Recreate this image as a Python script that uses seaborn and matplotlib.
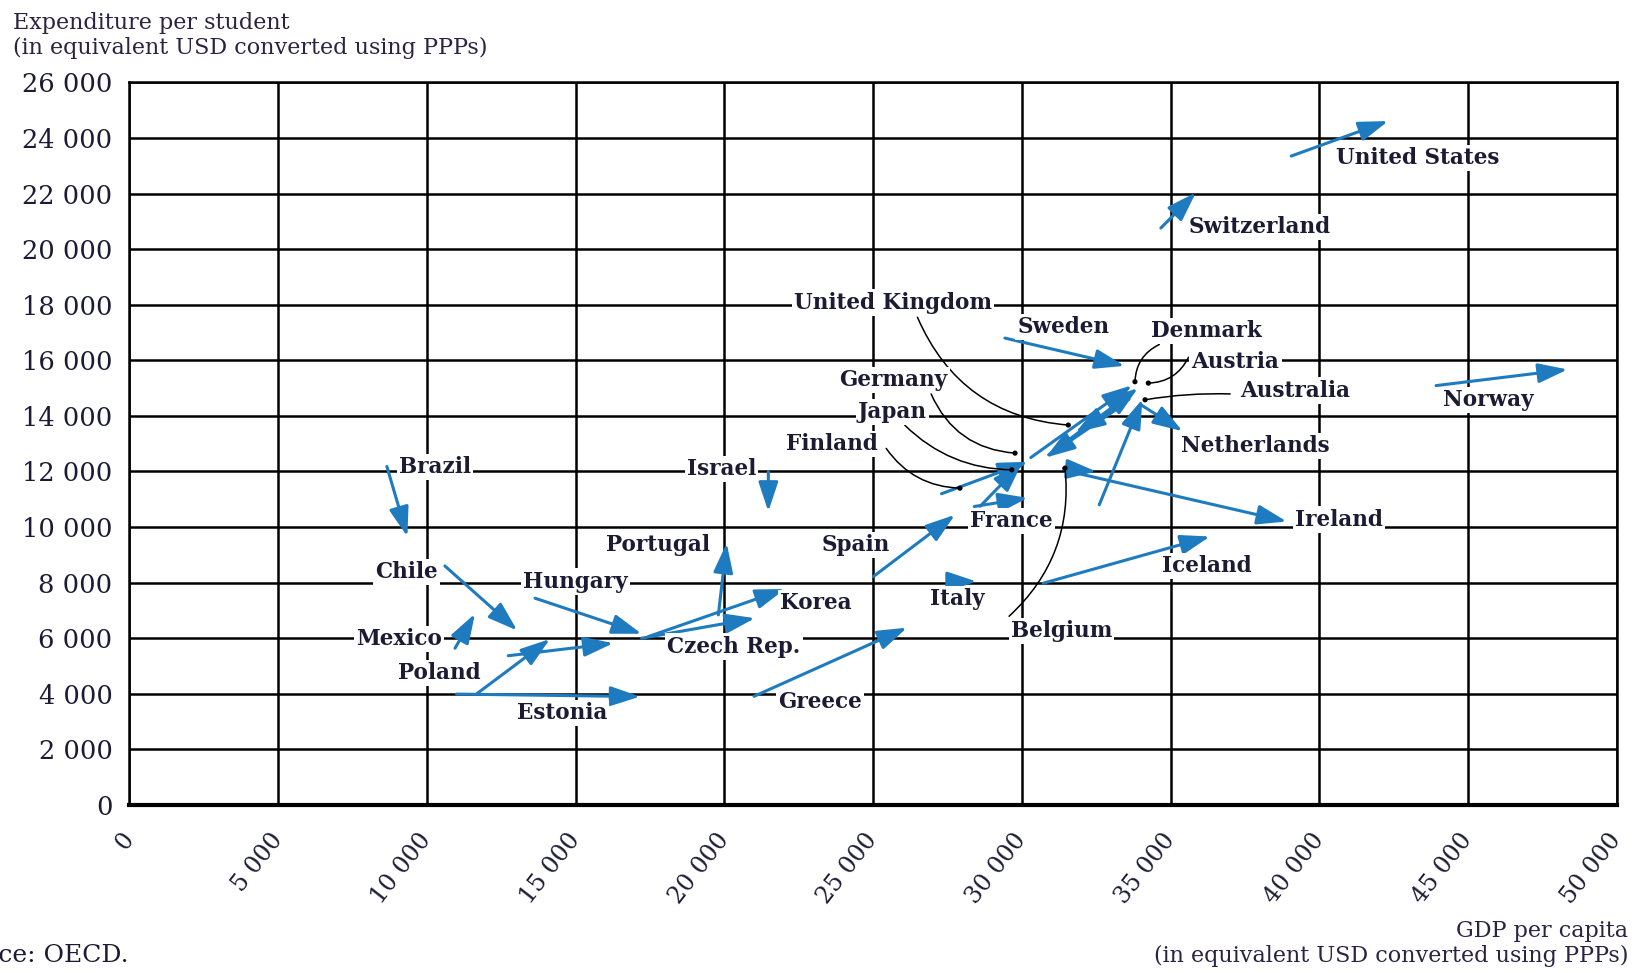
import numpy as np
import pandas as pd
import matplotlib
matplotlib.use("Agg")
import matplotlib.pyplot as plt
import seaborn as sns

# Arrow data, values in USD (GDP per capita -> x, expenditure per student -> y)
countries = ["Brazil", "Chile", "Mexico", "Poland", "Estonia", "", "Hungary", "Czech Rep.",
             "Korea", "Portugal", "Israel", "Greece", "Spain", "Italy", "France", "Japan",
             "Finland", "Germany", "United Kingdom", "Denmark", "Austria", "Australia",
             "Netherlands", "Sweden", "Belgium", "Ireland", "Iceland", "Switzerland",
             "United States", "Norway"]
gdp_start = [8660, 10610, 10950, 11680, 11000, 12740, 13640, 17220,
             17450, 19800, 21480, 21000, 25010, 27690, 28400, 28600,
             27300, 33400, 33600, 30300, 30900, 32600,
             34000, 29430, 31400, 31600, 30720, 34670,
             39050, 43920]
gdp_end = [9350, 13040, 11620, 14140, 17170, 16270, 17220, 21030,
           22040, 20080, 21480, 26140, 27750, 28480, 30200, 30000,
           30200, 30800, 31800, 33700, 33900, 34050,
           35400, 33450, 32500, 38900, 36320, 35850,
           42310, 48340]
exp_start = [12180, 8600, 5640, 4000, 3990, 5370, 7440, 6000,
             6060, 6840, 12000, 3910, 8220, 8040, 10740, 10750,
             11200, 14400, 14600, 12500, 12600, 10800,
             14400, 16800, 12100, 12000, 7980, 20760,
             23350, 15090]
exp_end = [9660, 6280, 6880, 5970, 3900, 5820, 6160, 6720,
           7770, 9420, 10560, 6380, 10440, 8040, 11050, 12300,
           12350, 12500, 13400, 15100, 15000, 14600,
           13450, 15800, 12000, 10200, 9660, 22040,
           24610, 15670]

# label positions (data units)
label_x = [10270, 9320, 9080, 10410, 14540, None, 15000, 20320,
           23090, 17770, 19900, 23230, 24420, 27820, 29640, 25650,
           23620, 25680, 25680, 36200, 37180, 39180,
           37840, 31400, 31330, 40650, 36200, 37980,
           43310, 45690]
label_y = [12150, 8380, 5960, 4760, 3320, None, 8040, 5700,
           7250, 9360, 12080, 3700, 9360, 7400, 10230, 14150,
           12980, 15280, 18080, 17060, 15930, 14910,
           12910, 17210, 6260, 10270, 8600, 20790,
           23290, 14570]

# leader lines: label side -> dot on the arrow
leader_names = ["United Kingdom", "Germany", "Japan", "Finland", "Belgium",
                "Denmark", "Austria", "Australia"]
leader_x0 = [26490, 26950, 26070, 25440, 29570, 34620, 35600, 37000]
leader_y0 = [17550, 14790, 13660, 12830, 6790, 16570, 16110, 14790]
leader_x1 = [31560, 29770, 29660, 27920, 31450, 33800, 34250, 34140]
leader_y1 = [13670, 12660, 12060, 11400, 12120, 15230, 15180, 14580]
leader_rad = [0.3, 0.3, 0.2, 0.25, 0.25, 0.3, -0.3, 0.05]

x_ticks = list(range(0, 50001, 5000))
y_ticks = list(range(0, 26001, 2000))

sns.set_style("white")
plt.rcParams["font.family"] = ["DejaVu Serif", "Liberation Serif"]

fig = plt.figure(figsize=(16.35, 9.73), dpi=100)
ax = fig.add_axes([0.079, 0.1727, 0.910, 0.7426])

blue = "#1f7bc0"
ink = "#1c1b33"

ax.set_xlim(0, 50000)
ax.set_ylim(0, 26000)
ax.set_xticks(x_ticks)
ax.set_yticks(y_ticks)
ax.grid(True, color="black", linewidth=1.8)
ax.set_axisbelow(True)
for s in ax.spines.values():
    s.set_color("black")
    s.set_linewidth(1.8)
ax.spines["bottom"].set_linewidth(3)

fmt = lambda v: f"{v:,}".replace(",", " ")
ax.set_yticklabels([fmt(v) for v in y_ticks], fontsize=18.5, color=ink)
ax.set_xticklabels([fmt(v) for v in x_ticks], fontsize=17, color=ink,
                   rotation=52, ha="right", va="center", rotation_mode="anchor")
ax.tick_params(axis="x", pad=22, length=0)
ax.tick_params(axis="y", pad=12, length=0)

# arrows
for xs, ys, xe, ye in zip(gdp_start, exp_start, gdp_end, exp_end):
    ax.annotate("", xy=(xe, ye), xytext=(xs, ys),
                arrowprops=dict(arrowstyle="-|>,head_length=0.75,head_width=0.25",
                                color=blue, lw=2.2, mutation_scale=24,
                                shrinkA=0, shrinkB=0),
                zorder=3)

# leader lines with dots
for x0, y0, x1, y1, r in zip(leader_x0, leader_y0, leader_x1, leader_y1, leader_rad):
    ax.annotate("", xy=(x1, y1), xytext=(x0, y0),
                arrowprops=dict(arrowstyle="-", color="black", lw=1.1,
                                connectionstyle=f"arc3,rad={r}", shrinkA=0, shrinkB=0),
                zorder=4)
dots = pd.DataFrame({"x": leader_x1, "y": leader_y1})
sns.scatterplot(data=dots, x="x", y="y", color="black", s=14, ax=ax, zorder=5,
                edgecolor="none", legend=False)
ax.set_xlabel("")
ax.set_ylabel("")

# country labels
for name, lx, ly in zip(countries, label_x, label_y):
    if not name:
        continue
    ax.text(lx, ly, name, fontsize=15.5, fontweight="bold", color=ink,
            ha="center", va="center", zorder=6,
            bbox=dict(facecolor="white", edgecolor="none", pad=1.5))

fig.text(0.008, 0.988, "Expenditure per student\n(in equivalent USD converted using PPPs)",
         fontsize=16, color="#2b2340", va="top", ha="left", linespacing=1.2)
fig.text(0.996, 0.006, "GDP per capita\n(in equivalent USD converted using PPPs)",
         fontsize=16, color="#2b2340", va="bottom", ha="right", multialignment="right",
         linespacing=1.2)
fig.text(-0.038, 0.006, "Source: OECD.", fontsize=18, color=ink, va="bottom", ha="left")

fig.savefig("out.png", dpi=100)
